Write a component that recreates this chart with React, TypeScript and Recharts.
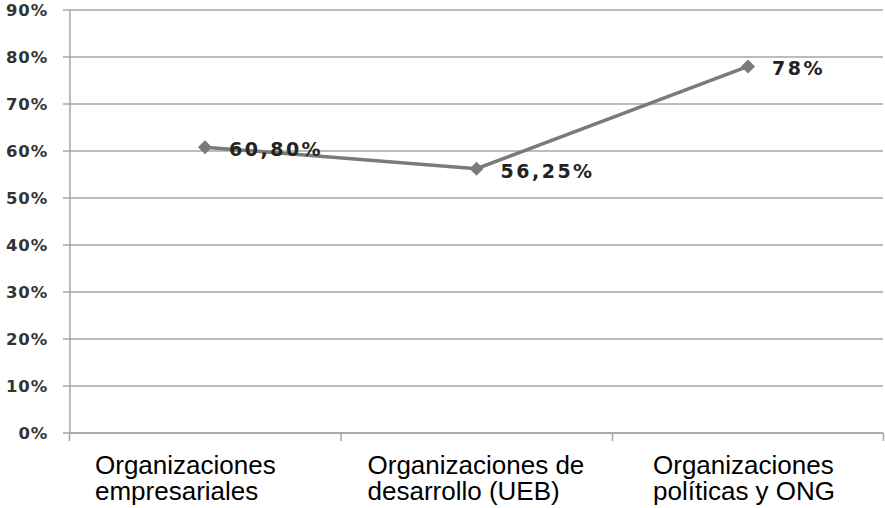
import React from "react";
import { LineChart, Line, XAxis, YAxis, CartesianGrid, LabelList } from "recharts";

const categoryLines: string[][] = [
  ["Organizaciones", "empresariales"],
  ["Organizaciones de", "desarrollo (UEB)"],
  ["Organizaciones", "políticas y ONG"],
];
const values: number[] = [60.8, 56.25, 78];
const valueLabels: string[] = ["60,80%", "56,25%", "78%"];
const yTicks: number[] = [0, 10, 20, 30, 40, 50, 60, 70, 80, 90];

const data = categoryLines.map((lines, i) => ({
  name: lines.join(" "),
  value: values[i],
  label: valueLabels[i],
}));

const GRID = "#a6a6a6";
const LINE = "#7a7a7a";
const HALF_BAND = 135.5;
const LABEL_START_OFFSET = [-110, -109, -95];

const XTick = (props: any) => {
  const { x, y, index } = props;
  const lines = categoryLines[index] || [];
  const startX = x + (LABEL_START_OFFSET[index] ?? -100);
  return (
    <g>
      <line x1={x - HALF_BAND} x2={x - HALF_BAND} y1={y} y2={y + 8} stroke={GRID} strokeWidth={1.5} />
      {index === categoryLines.length - 1 && (
        <line x1={x + HALF_BAND} x2={x + HALF_BAND} y1={y} y2={y + 8} stroke={GRID} strokeWidth={1.5} />
      )}
      {lines.map((t, i) => (
        <text
          key={i}
          x={startX}
          y={y + 41 + i * 26}
          textAnchor="start"
          fontFamily="'Liberation Sans', Arial, sans-serif"
          fontSize={26}
          fill="#000"
        >
          {t}
        </text>
      ))}
    </g>
  );
};

const YTick = (props: any) => {
  const { x, y, payload } = props;
  return (
    <text
      x={x + 1}
      y={y}
      dy="0.36em"
      textAnchor="end"
      fontFamily="'DejaVu Sans', Verdana, sans-serif"
      fontWeight="bold"
      fontSize={16.5}
      letterSpacing={0.8}
      fill="#333"
    >
      {payload.value}%
    </text>
  );
};

const Diamond = (props: any) => {
  const { cx, cy, index } = props;
  if (cx == null || cy == null) return null;
  const r = 7;
  return (
    <polygon
      key={`d-${index}`}
      points={`${cx},${cy - r} ${cx + r},${cy} ${cx},${cy + r} ${cx - r},${cy}`}
      fill={LINE}
      stroke="none"
    />
  );
};

const PointLabel = (props: any) => {
  const { x, y, value } = props;
  return (
    <text
      x={x + 24}
      y={y + 9}
      textAnchor="start"
      fontFamily="'DejaVu Sans', Verdana, sans-serif"
      fontWeight="bold"
      fontSize={19}
      letterSpacing={2.5}
      fill="#222"
    >
      {value}
    </text>
  );
};

export default function App() {
  return (
    <div style={{ position: "absolute", left: 0, top: 0, width: 885, height: 508, background: "#fff" }}>
      <LineChart width={885} height={508} data={data} margin={{ top: 10, right: 2, bottom: 0, left: 0 }}>
        <CartesianGrid vertical={false} stroke={GRID} strokeWidth={1.5} />
        <XAxis
          dataKey="name"
          height={75}
          padding={{ left: 135, right: 135 }}
          axisLine={{ stroke: GRID, strokeWidth: 1.5 }}
          tickLine={false}
          tickSize={0}
          tickMargin={0}
          interval={0}
          tick={<XTick />}
        />
        <YAxis
          width={70}
          domain={[0, 90]}
          ticks={yTicks}
          interval={0}
          axisLine={{ stroke: GRID, strokeWidth: 1.5 }}
          tickLine={{ stroke: GRID, strokeWidth: 1.5 }}
          tickSize={7}
          tickMargin={16}
          tick={<YTick />}
        />
        <Line
          type="linear"
          dataKey="value"
          stroke={LINE}
          strokeWidth={3.5}
          dot={<Diamond />}
          activeDot={false}
          isAnimationActive={false}
        >
          <LabelList dataKey="label" content={<PointLabel />} />
        </Line>
      </LineChart>
    </div>
  );
}
